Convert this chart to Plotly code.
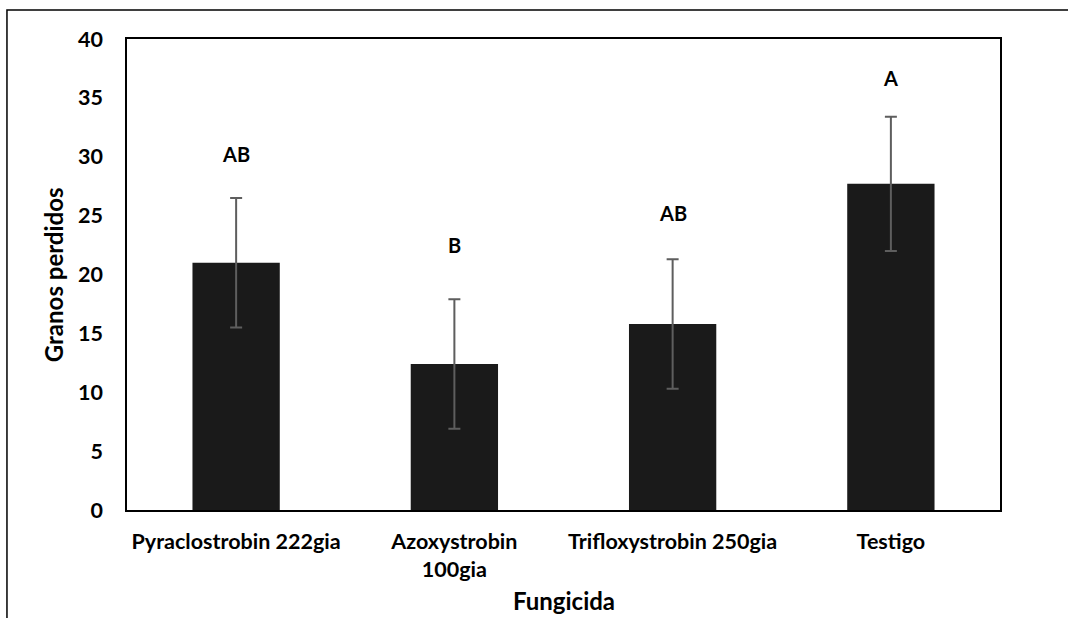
import plotly.graph_objects as go

# Fungicide treatments and mean lost grains with standard error
categories = ["Pyraclostrobin 222gia", "Azoxystrobin<br>100gia", "Trifloxystrobin 250gia", "Testigo"]
granos_perdidos = [21.0, 12.4, 15.8, 27.7]
error = [5.5, 5.5, 5.5, 5.7]
letras = ["AB", "B", "AB", "A"]
letras_y = [30.2, 22.5, 25.2, 36.7]

FONT = "Lato"
TICK = 21.5
TITLE = 24

fig = go.Figure()
fig.add_trace(go.Bar(
    x=categories,
    y=granos_perdidos,
    marker=dict(color="#1a1a1a", line=dict(width=0)),
    error_y=dict(type="data", array=error, visible=True,
                 color="#5e5e5e", thickness=2, width=6),
    width=0.4,
    showlegend=False,
))

# Significance letters above each bar
for cat, txt, yy in zip(categories, letras, letras_y):
    fig.add_annotation(x=cat, y=yy, text=txt, showarrow=False,
                       xref="x", yref="y", yanchor="middle",
                       font=dict(family=FONT, size=20, color="black", weight="bold"))

# Axis titles
fig.add_annotation(text="Granos perdidos", x=-0.084, y=0.5, xref="paper", yref="paper",
                   textangle=-90, showarrow=False, xanchor="center", yanchor="middle",
                   font=dict(family=FONT, size=TITLE, color="black", weight="bold"))
fig.add_annotation(text="Fungicida", x=0.5, y=-0.192, xref="paper", yref="paper",
                   showarrow=False, xanchor="center", yanchor="middle",
                   borderpad=0,
                   font=dict(family=FONT, size=TITLE, color="black", weight="bold"))

# Outer chart frame (extends past the page on the right and bottom)
fig.add_shape(type="rect", xref="paper", yref="paper",
              x0=-0.1375, x1=1.3, y0=-0.4, y1=1.0616,
              line=dict(color="black", width=1.5), fillcolor="rgba(0,0,0,0)",
              layer="below")

fig.update_layout(
    width=1068, height=618,
    margin=dict(l=127, r=68, t=39, b=108),
    paper_bgcolor="white", plot_bgcolor="white",
    bargap=0.6,
    font=dict(family=FONT, size=TICK, color="black", weight="bold"),
    xaxis=dict(showline=True, linecolor="black", linewidth=1.5, mirror=True,
               ticks="", showgrid=False, ticklabelstandoff=11,
               tickfont=dict(family=FONT, size=TICK, color="black", weight="bold")),
    yaxis=dict(range=[0, 40], dtick=5, showline=True, linecolor="black",
               linewidth=1.5, mirror=True, ticks="", showgrid=False,
               zeroline=False, ticklabelstandoff=18,
               tickfont=dict(family=FONT, size=TICK, color="black", weight="bold")),
)

fig.write_html("out.html")
